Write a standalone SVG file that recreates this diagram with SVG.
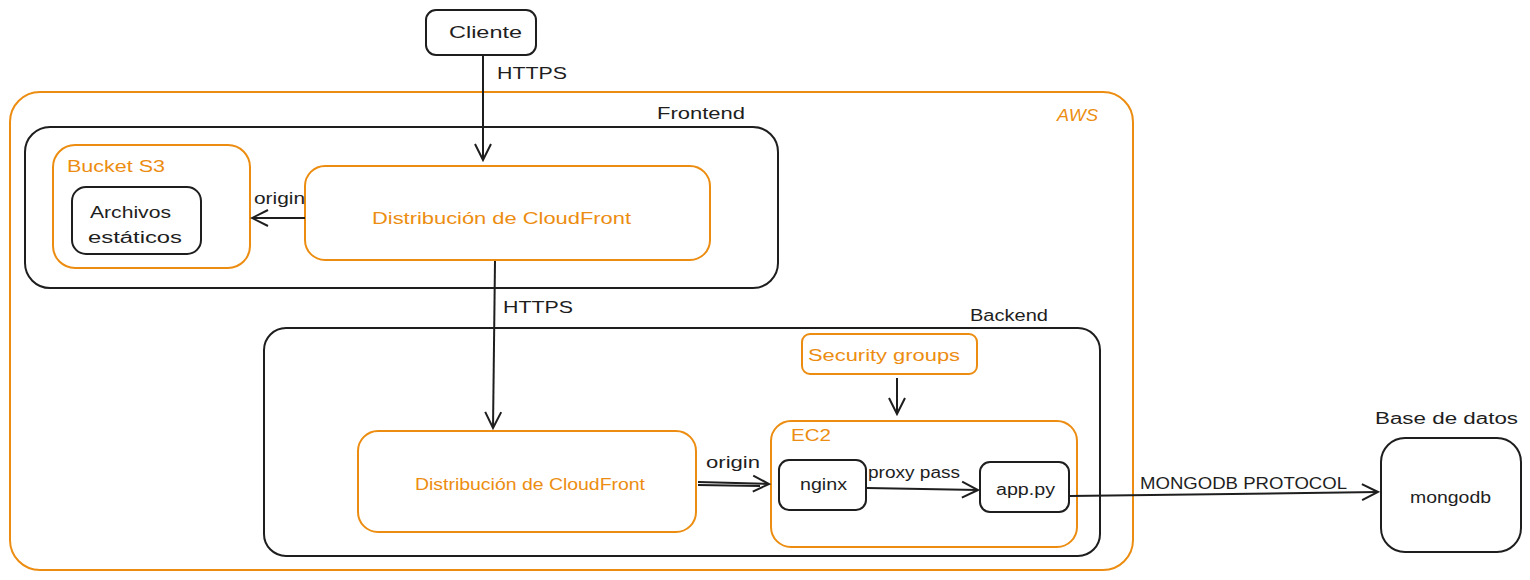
<svg xmlns="http://www.w3.org/2000/svg" width="1530" height="580" viewBox="0 0 1530 580">
<style>
.box{fill:#fff;stroke:#1e1e1e;stroke-width:2}
.frame{fill:none;stroke:#1e1e1e;stroke-width:2}
.obox{fill:none;stroke:#ec8d11;stroke-width:2}
.t{font-family:"Liberation Sans",Arial,sans-serif;fill:#1e1e1e;font-size:16px}
.o{fill:#ec8d11}
.edge{stroke:#1e1e1e;stroke-width:2;fill:none}
</style>
<defs>
<marker id="ah" viewBox="0 0 20 20" refX="18" refY="10" markerWidth="20" markerHeight="20" markerUnits="userSpaceOnUse" orient="auto">
<path d="M2,2 L18,10 L2,18" fill="none" stroke="#1e1e1e" stroke-width="2"/>
</marker>
</defs>
<rect width="1530" height="580" fill="#fff"/>

<g id="aws">
<rect class="obox" x="10" y="92" width="1123" height="478" rx="30"/>
<text class="t o" x="1057" y="121" font-style="italic" font-size="18" textLength="41" lengthAdjust="spacingAndGlyphs">AWS</text>
</g>

<g id="frontend">
<rect class="frame" x="25" y="127" width="753" height="161" rx="25"/>
<text class="t" x="657" y="119" font-size="19" textLength="88" lengthAdjust="spacingAndGlyphs">Frontend</text>
</g>

<g id="bucket-s3">
<rect class="obox" x="53" y="145" width="197" height="123" rx="22"/>
<text class="t o" x="67" y="172" font-size="19" textLength="98" lengthAdjust="spacingAndGlyphs">Bucket S3</text>
</g>

<g id="archivos">
<rect class="box" x="72" y="187" width="129" height="67" rx="14"/>
<text class="t" x="90" y="218" font-size="18" textLength="81" lengthAdjust="spacingAndGlyphs">Archivos</text>
<text class="t" x="88" y="243" font-size="18" textLength="94" lengthAdjust="spacingAndGlyphs">estáticos</text>
</g>

<g id="cloudfront1">
<rect class="obox" x="305" y="166" width="405" height="94" rx="20"/>
<text class="t o" x="372" y="224" font-size="20" textLength="259" lengthAdjust="spacingAndGlyphs">Distribución de CloudFront</text>
</g>

<g id="cliente">
<rect class="box" x="426" y="10" width="110" height="45" rx="10"/>
<text class="t" x="449" y="38" font-size="22" textLength="73" lengthAdjust="spacingAndGlyphs">Cliente</text>
</g>

<g id="backend">
<rect class="frame" x="264" y="328" width="836" height="228" rx="22"/>
<text class="t" x="970" y="321" font-size="19" textLength="78" lengthAdjust="spacingAndGlyphs">Backend</text>
</g>

<g id="security-groups">
<rect class="obox" x="802" y="334" width="175" height="40" rx="8"/>
<text class="t o" x="808" y="361" font-size="19" textLength="152" lengthAdjust="spacingAndGlyphs">Security groups</text>
</g>

<g id="ec2">
<rect class="obox" x="771" y="421" width="306" height="126" rx="20"/>
<text class="t o" x="791" y="441" font-size="19" textLength="40" lengthAdjust="spacingAndGlyphs">EC2</text>
</g>

<g id="nginx">
<rect class="box" x="779" y="460" width="87" height="50" rx="10"/>
<text class="t" x="800" y="490" font-size="17" textLength="47" lengthAdjust="spacingAndGlyphs">nginx</text>
</g>

<g id="apppy">
<rect class="box" x="980" y="462" width="89" height="50" rx="10"/>
<text class="t" x="996" y="495" font-size="17" textLength="59" lengthAdjust="spacingAndGlyphs">app.py</text>
</g>

<g id="cloudfront2">
<rect class="obox" x="358" y="431" width="338" height="101" rx="20"/>
<text class="t o" x="415" y="490" font-size="17" textLength="230" lengthAdjust="spacingAndGlyphs">Distribución de CloudFront</text>
</g>

<g id="mongodb">
<rect class="box" x="1381" y="438" width="140" height="114" rx="24"/>
<text class="t" x="1410" y="503" font-size="16" textLength="81" lengthAdjust="spacingAndGlyphs">mongodb</text>
<text class="t" x="1375" y="424" font-size="19" textLength="143" lengthAdjust="spacingAndGlyphs">Base de datos</text>
</g>

<g id="connectors">
<path class="edge" d="M483,56 L483,160" marker-end="url(#ah)"/>
<text class="t" x="497" y="79" font-size="18" textLength="70" lengthAdjust="spacingAndGlyphs">HTTPS</text>

<path class="edge" d="M305,218 L252,218" marker-end="url(#ah)"/>
<text class="t" x="254" y="204" font-size="18" textLength="51" lengthAdjust="spacingAndGlyphs">origin</text>

<path class="edge" d="M495,261 L493,428" marker-end="url(#ah)"/>
<text class="t" x="503" y="313" font-size="18" textLength="70" lengthAdjust="spacingAndGlyphs">HTTPS</text>

<path class="edge" d="M897,378 L897,414" marker-end="url(#ah)"/>

<path class="edge" d="M698,482 L769,484" marker-end="url(#ah)"/>
<path class="edge" d="M698,485 L760,486"/>
<text class="t" x="706" y="468" font-size="18" textLength="54" lengthAdjust="spacingAndGlyphs">origin</text>

<path class="edge" d="M867,488 L978,490" marker-end="url(#ah)"/>
<text class="t" x="868" y="478" font-size="18" textLength="92" lengthAdjust="spacingAndGlyphs">proxy pass</text>

<path class="edge" d="M1070,496 L1378,492" marker-end="url(#ah)"/>
<text class="t" x="1140" y="489" font-size="16" textLength="207" lengthAdjust="spacingAndGlyphs">MONGODB PROTOCOL</text>
</g>
</svg>
